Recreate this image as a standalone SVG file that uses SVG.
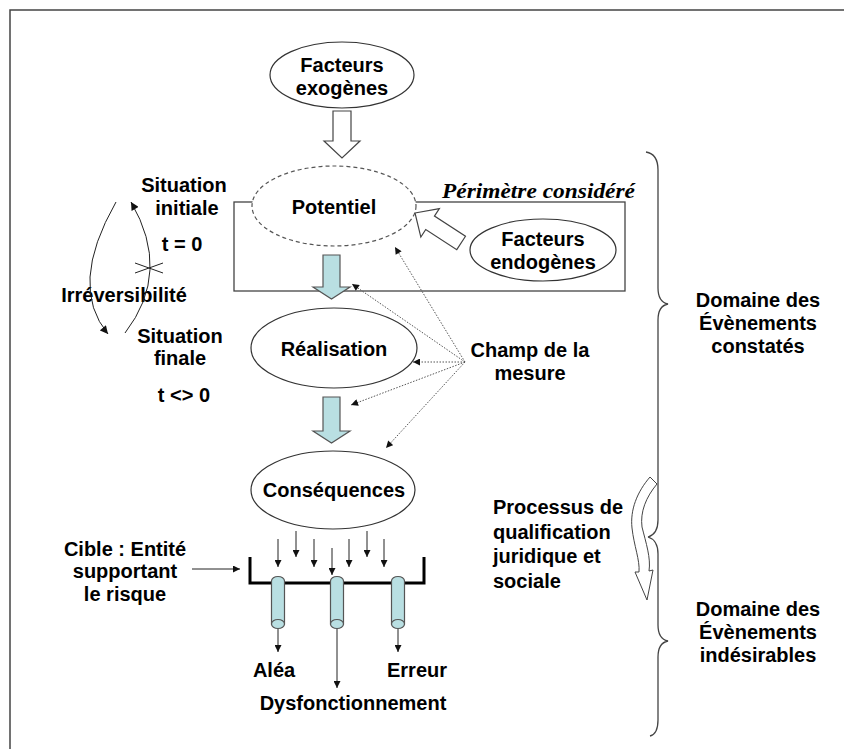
<svg xmlns="http://www.w3.org/2000/svg" width="844" height="749" viewBox="0 0 844 749">
<style>
.t{font-family:"Liberation Sans",Arial,sans-serif;font-weight:bold;font-size:20px;fill:#000}
.m{text-anchor:middle}
.el{fill:#fff;stroke:#333;stroke-width:1.2}
.hollow{fill:#fff;stroke:#444;stroke-width:1.2}
.blue{fill:#b9dfe2;stroke:#555;stroke-width:1.2}
.dot{fill:none;stroke:#555;stroke-width:1;stroke-dasharray:1.5 1.5}
.ln{fill:none;stroke:#222;stroke-width:1}
.br{fill:none;stroke:#444;stroke-width:1.3}
</style>
<defs>
<marker id="ah" viewBox="0 0 10 10" refX="10" refY="5" markerWidth="8" markerHeight="7" markerUnits="userSpaceOnUse" orient="auto">
<path d="M0,0 L10,5 L0,10 z" fill="#111"/>
</marker>
<marker id="ah2" viewBox="0 0 10 10" refX="10" refY="5" markerWidth="9" markerHeight="8" markerUnits="userSpaceOnUse" orient="auto">
<path d="M0,0 L10,5 L0,10 z" fill="#111"/>
</marker>
</defs>
<rect width="844" height="749" fill="#fff"/>
<g id="frame">
<path d="M10,749 V10 H844" fill="none" stroke="#444" stroke-width="1.5"/>
</g>
<g id="perimetre">
<rect x="234" y="202" width="391" height="89" fill="none" stroke="#444" stroke-width="1.3"/>
<text x="442" y="198" textLength="193" lengthAdjust="spacingAndGlyphs" style="font-family:'Liberation Serif','Times New Roman',serif;font-weight:bold;font-style:italic;font-size:22px">Périmètre considéré</text>
</g>
<g id="exogenes">
<ellipse class="el" cx="342" cy="75" rx="72" ry="33"/>
<text class="t m" x="342" y="72">Facteurs</text>
<text class="t m" x="342" y="95">exogènes</text>
</g>
<g id="potentiel">
<ellipse cx="334" cy="206" rx="82" ry="40" fill="#fff" stroke="#555" stroke-width="1.2" stroke-dasharray="4 3"/>
<text class="t m" x="334" y="214">Potentiel</text>
</g>
<g id="endogenes">
<ellipse class="el" cx="543" cy="250" rx="73" ry="31"/>
<text class="t m" x="543" y="246">Facteurs</text>
<text class="t m" x="543" y="269">endogènes</text>
</g>
<g id="realisation">
<ellipse class="el" cx="334" cy="348" rx="83" ry="40"/>
<text class="t m" x="334" y="356">Réalisation</text>
</g>
<g id="consequences">
<ellipse class="el" cx="333" cy="490" rx="82" ry="39"/>
<text class="t m" x="334" y="497">Conséquences</text>
</g>
<g id="champ">
<text class="t m" x="530" y="357">Champ de la</text>
<text class="t m" x="530" y="380">mesure</text>
</g>
<g id="situations">
<text class="t m" x="184" y="192">Situation</text>
<text class="t m" x="187" y="215">initiale</text>
<text class="t m" x="182" y="251">t = 0</text>
<text class="t m" x="124" y="302">Irréversibilité</text>
<text class="t m" x="180" y="343">Situation</text>
<text class="t m" x="180" y="365">finale</text>
<text class="t m" x="184" y="402">t &lt;&gt; 0</text>
</g>
<g id="cible">
<text class="t m" x="125" y="556">Cible : Entité</text>
<text class="t m" x="125" y="578">supportant</text>
<text class="t m" x="125" y="601">le risque</text>
</g>
<g id="target">
<path d="M250,557 V583 H424 V557" fill="none" stroke="#000" stroke-width="3"/>
<g class="blue">
<path d="M271.5,624 V581 A6.5,4.5 0 0 1 284.5,581 V624 Z"/>
<ellipse cx="278" cy="624" rx="6.5" ry="4.5"/>
<path d="M330.5,624 V581 A6.5,4.5 0 0 1 343.5,581 V624 Z"/>
<ellipse cx="337" cy="624" rx="6.5" ry="4.5"/>
<path d="M391.5,624 V581 A6.5,4.5 0 0 1 404.5,581 V624 Z"/>
<ellipse cx="398" cy="624" rx="6.5" ry="4.5"/>
</g>
</g>
<g id="issues">
<text class="t m" x="274" y="677">Aléa</text>
<text class="t m" x="417" y="677">Erreur</text>
<text class="t m" x="353" y="710">Dysfonctionnement</text>
</g>
<g id="processus">
<text class="t" x="493" y="514">Processus de</text>
<text class="t" x="493" y="539">qualification</text>
<text class="t" x="493" y="563">juridique et</text>
<text class="t" x="493" y="588">sociale</text>
<path d="M650,477 C637,492 630,510 632,528 C634,546 640,560 639,572 L635,572 L647,600 L653,570 L649,571 C651,558 646,543 642,527 C640,512 646,497 657,484 Z" fill="#fff" stroke="#444" stroke-width="1"/>
</g>
<g id="domaines">
<text class="t m" x="758" y="307">Domaine des</text>
<text class="t m" x="758" y="330">Évènements</text>
<text class="t m" x="758" y="353">constatés</text>
<text class="t m" x="758" y="616">Domaine des</text>
<text class="t m" x="758" y="639">Évènements</text>
<text class="t m" x="758" y="662">indésirables</text>
<path class="br" d="M646,152 Q658,154 658,170 V288 Q658,302 668,304 Q658,306 658,320 V520 Q658,534 648,537"/>
<path class="br" d="M648,537 Q658,540 658,554 V625 Q658,639 668,641 Q658,643 658,657 V720 Q658,734 650,736"/>
</g>
<g id="connectors">
<path class="hollow" d="M333,111 H351 V141 H360 L342,158 L324,141 H333 Z"/>
<path class="hollow" transform="translate(415,213) rotate(33)" d="M0,0 L18,-17 L18,-8 L55,-8 L55,8 L18,8 L18,17 Z"/>
<path class="blue" d="M323,255 H340 V287 H350 L331.5,299 L313,287 H323 Z"/>
<path class="blue" d="M323,397 H340 V431 H350 L331.5,443 L313,431 H323 Z"/>
<path class="dot" d="M465,362 L395,247" marker-end="url(#ah)"/>
<path class="dot" d="M465,362 L352,284" marker-end="url(#ah)"/>
<path class="dot" d="M465,362 L413,362" marker-end="url(#ah)"/>
<path class="dot" d="M465,362 L351,405" marker-end="url(#ah)"/>
<path class="dot" d="M465,362 L386,448" marker-end="url(#ah)"/>
<path class="ln" d="M125,333 Q172,272 131,202" marker-end="url(#ah2)"/>
<path class="ln" d="M116,202 Q68,286 108,334" marker-end="url(#ah2)"/>
<path class="ln" d="M135,263 L163,273 M135,273 L163,263"/>
<path class="ln" d="M192,569 H240" marker-end="url(#ah)"/>
<path class="ln" d="M278,539 V567" marker-end="url(#ah)"/>
<path class="ln" d="M296,531 V557" marker-end="url(#ah)"/>
<path class="ln" d="M314,539 V567" marker-end="url(#ah)"/>
<path class="ln" d="M332,548 V575" marker-end="url(#ah)"/>
<path class="ln" d="M349,539 V567" marker-end="url(#ah)"/>
<path class="ln" d="M367,531 V557" marker-end="url(#ah)"/>
<path class="ln" d="M384,539 V567" marker-end="url(#ah)"/>
<path class="ln" d="M278,629 V652" marker-end="url(#ah)"/>
<path class="ln" d="M337,629 V688" marker-end="url(#ah)"/>
<path class="ln" d="M398,629 V652" marker-end="url(#ah)"/>
</g>
</svg>
